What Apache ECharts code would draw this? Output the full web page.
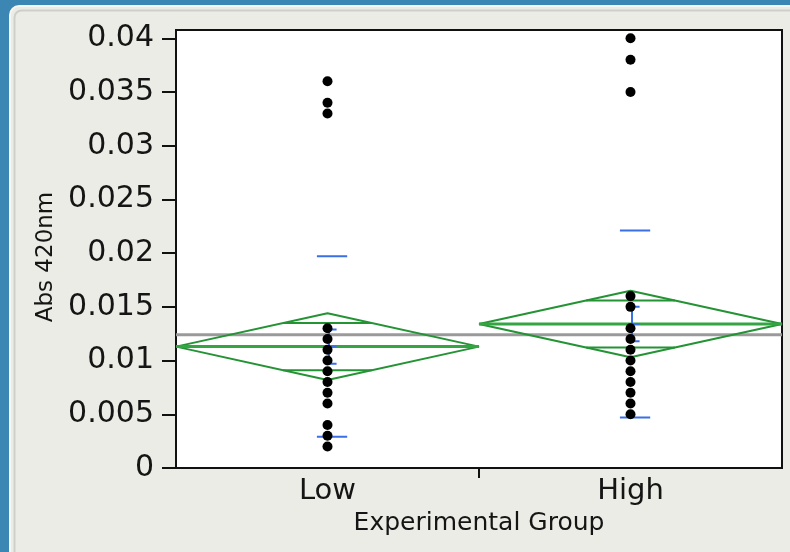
<!DOCTYPE html>
<html>
<head>
<meta charset="utf-8">
<script src="https://cdn.jsdelivr.net/npm/echarts@6/dist/echarts.min.js"></script>
<style>
html,body{margin:0;padding:0;background:#3b86b3;}
#chart{width:790px;height:552px;}
</style>
</head>
<body>
<div id="chart"></div>
<script>
// ---- data ----
const categories = ['Low', 'High'];
const lowValues  = [0.036, 0.034, 0.033, 0.013, 0.012, 0.011, 0.010, 0.009, 0.008, 0.007, 0.006, 0.004, 0.003, 0.002];
const highValues = [0.040, 0.038, 0.035, 0.016, 0.015, 0.013, 0.012, 0.011, 0.010, 0.009, 0.008, 0.007, 0.006, 0.005];
const groupMeans = [0.0113, 0.0134];
const groupCI    = [0.0031, 0.0031];   // 95% CI half-width (diamond height)
const groupSD    = [0.0084, 0.0087];   // std dev lines
const groupSE    = [0.0016, 0.0016];   // std error bars
const grandMean  = 0.0124;
const yTicks = [0, 0.005, 0.01, 0.015, 0.02, 0.025, 0.03, 0.035, 0.04];
const yLabels = ['0', '0.005', '0.01', '0.015', '0.02', '0.025', '0.03', '0.035', '0.04'];

// ---- styles ----
const GREEN = '#239334';
const BLUE = '#3b6fe6';
const FONT = 'DejaVu Sans';

// ---- build line data from arrays ----
const diamondData = [], meanLineData = [], overlapData = [], sdData = [], seData = [];
const ovHalf = 0.5 * (1 - 1 / Math.SQRT2);
groupMeans.forEach((m, i) => {
  const c = groupCI[i];
  diamondData.push([i, m], [i + 0.5, m + c], [i + 1, m], [i + 0.5, m - c], [i, m], '-');
  meanLineData.push([i, m], [i + 1, m], '-');
  [m + c / Math.SQRT2, m - c / Math.SQRT2].forEach(y => {
    overlapData.push([i + 0.5 - ovHalf, y], [i + 0.5 + ovHalf, y], '-');
  });
  [m + groupSD[i], m - groupSD[i]].forEach(y => {
    sdData.push([i + 0.465, y], [i + 0.565, y], '-');
  });
  const s = groupSE[i];
  seData.push([i + 0.505, m - s], [i + 0.505, m + s], '-');
  [m - s, m, m + s].forEach(y => {
    seData.push([i + 0.5, y], [i + 0.53, y], '-');
  });
});

const dotData = [];
lowValues.forEach(v => dotData.push([categories[0], v]));
highValues.forEach(v => dotData.push([categories[1], v]));

// category boundaries (interior) for the x tick
const boundaryTicks = categories.slice(1).map((c, i) => i + 1);

const chart = echarts.init(document.getElementById('chart'), null, {renderer: 'canvas'});
const lineBase = {type: 'line', xAxisIndex: 1, yAxisIndex: 0, symbol: 'none', silent: true, animation: false, connectNulls: false};

chart.setOption({
  backgroundColor: '#3b86b3',
  animation: false,
  graphic: [
    {type: 'rect', shape: {x: 10, y: 6, width: 800, height: 560, r: [9, 0, 0, 0]},
     style: {fill: '#ecece6', stroke: '#f6f6f2', lineWidth: 2}, z: -10},
    {type: 'rect', shape: {x: 14.5, y: 10.5, width: 800, height: 560, r: [7, 0, 0, 0]},
     style: {fill: 'none', stroke: '#cfcfca', lineWidth: 2}, z: -9}
  ],
  grid: {left: 176, right: 8, top: 30, bottom: 84, show: true, backgroundColor: '#ffffff', borderColor: '#111111', borderWidth: 2},
  xAxis: [
    {type: 'category', data: categories, boundaryGap: true,
     axisLine: {show: true, lineStyle: {color: '#111111', width: 2}},
     axisTick: {show: false},
     axisLabel: {fontFamily: FONT, fontSize: 29, color: '#151515', margin: 9},
     name: 'Experimental Group', nameLocation: 'middle', nameGap: 42,
     nameTextStyle: {fontFamily: FONT, fontSize: 25, color: '#151515'},
     splitLine: {show: false}},
    {type: 'value', min: 0, max: categories.length, show: true, position: 'bottom',
     axisLine: {show: false}, axisLabel: {show: false}, splitLine: {show: false},
     axisTick: {show: true, length: 10, customValues: boundaryTicks, lineStyle: {color: '#111111', width: 2}}}
  ],
  yAxis: {
    type: 'value', min: 0, max: 0.04077,
    axisLine: {show: true, lineStyle: {color: '#111111', width: 2}},
    axisTick: {show: true, length: 14, customValues: yTicks, lineStyle: {color: '#111111', width: 2}},
    axisLabel: {fontFamily: FONT, fontSize: 30, color: '#151515', margin: 22, customValues: yTicks,
                formatter: v => { const k = yTicks.findIndex(t => Math.abs(t - v) < 1e-9); return k >= 0 ? yLabels[k] : ''; }},
    splitLine: {show: false},
    name: 'Abs 420nm', nameLocation: 'middle', nameRotate: 90, nameGap: 118,
    nameTextStyle: {fontFamily: FONT, fontSize: 23, color: '#151515', padding: [0, 16, 0, 0]}
  },
  series: [
    Object.assign({}, lineBase, {name: 'grand mean', data: [[0, grandMean], [categories.length, grandMean]], lineStyle: {color: '#9a9a9a', width: 3}, z: 1}),
    Object.assign({}, lineBase, {name: 'diamonds', data: diamondData, lineStyle: {color: GREEN, width: 2}, z: 2}),
    Object.assign({}, lineBase, {name: 'means', data: meanLineData, lineStyle: {color: '#35a544', width: 3}, z: 2}),
    Object.assign({}, lineBase, {name: 'overlap', data: overlapData, lineStyle: {color: GREEN, width: 2}, z: 2}),
    Object.assign({}, lineBase, {name: 'sd', data: sdData, lineStyle: {color: BLUE, width: 2}, z: 3}),
    Object.assign({}, lineBase, {name: 'se', data: seData, lineStyle: {color: BLUE, width: 2}, z: 3}),
    {type: 'scatter', name: 'values', xAxisIndex: 0, yAxisIndex: 0, data: dotData, symbol: 'circle', symbolSize: 10,
     itemStyle: {color: '#000000', opacity: 1}, silent: true, z: 4}
  ]
});
</script>
</body>
</html>
